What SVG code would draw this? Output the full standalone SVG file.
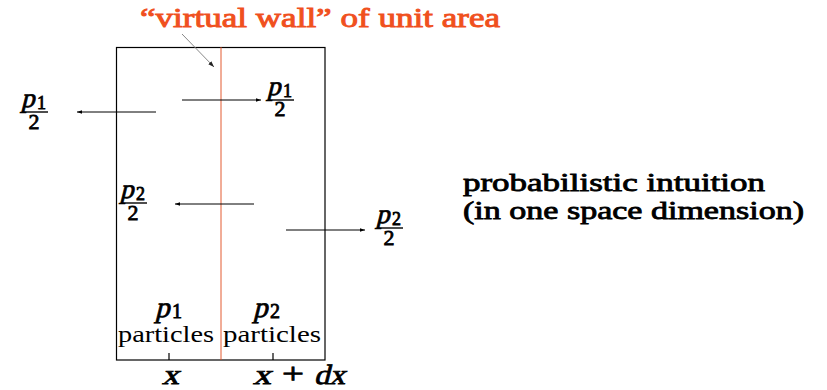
<svg xmlns="http://www.w3.org/2000/svg" width="827" height="390" viewBox="0 0 827 390">
<style>
  text { font-family: "Liberation Serif", "Times New Roman", serif; fill: #000; font-weight: normal; font-style: normal; }
  .b { stroke: #000; stroke-width: 0.8; }
  .ttl { fill: #f0501e; stroke: #f0501e; stroke-width: 0.9; }
  .arr { stroke: #000; stroke-width: 1; fill: none; marker-end: url(#ah); }
  .bar { stroke: #000; stroke-width: 1.4; }
  .tick { stroke: #000; stroke-width: 1.2; }
</style>
<defs>
  <marker id="ah" viewBox="0 0 10 10" refX="10" refY="5" markerWidth="5" markerHeight="5" orient="auto" markerUnits="userSpaceOnUse">
    <path d="M0,1.5 L10,5 L0,8.5 z" fill="#000"/>
  </marker>
  <marker id="ahg" viewBox="0 0 10 10" refX="10" refY="5" markerWidth="6" markerHeight="6" orient="auto" markerUnits="userSpaceOnUse">
    <path d="M0,1.5 L10,5 L0,8.5 z" fill="#222"/>
  </marker>
</defs>

<g id="title">
  <text class="ttl" x="140" y="27" font-size="27" textLength="360" lengthAdjust="spacingAndGlyphs">“virtual wall” of unit area</text>
</g>

<g id="box">
  <rect x="116.5" y="47.5" width="208.5" height="312.5" fill="none" stroke="#000" stroke-width="1.2"/>
  <line class="tick" x1="169" y1="353" x2="169" y2="360"/>
  <line class="tick" x1="273" y1="353" x2="273" y2="360"/>
</g>

<g id="wall">
  <line x1="221" y1="47" x2="221" y2="360" stroke="#e04818" stroke-width="0.9"/>
</g>

<g id="frac-p1-left">
  <text class="b" transform="translate(21,107) skewX(-14)" font-size="27">p</text>
  <text class="b" x="37" y="109" font-size="18">1</text>
  <line class="bar" x1="22" y1="112" x2="48" y2="112"/>
  <text class="b" x="34" y="129" font-size="22" text-anchor="middle">2</text>
</g>

<g id="frac-p1-right">
  <text class="b" transform="translate(267,95) skewX(-14)" font-size="27">p</text>
  <text class="b" x="283" y="97" font-size="18">1</text>
  <line class="bar" x1="268" y1="100" x2="294" y2="100"/>
  <text class="b" x="280" y="116" font-size="22" text-anchor="middle">2</text>
</g>

<g id="frac-p2-left">
  <text class="b" transform="translate(120,198) skewX(-14)" font-size="27">p</text>
  <text class="b" x="136" y="200" font-size="18">2</text>
  <line class="bar" x1="121" y1="203" x2="147" y2="203"/>
  <text class="b" x="133" y="220" font-size="22" text-anchor="middle">2</text>
</g>

<g id="frac-p2-right">
  <text class="b" transform="translate(376,223) skewX(-14)" font-size="27">p</text>
  <text class="b" x="392" y="225" font-size="18">2</text>
  <line class="bar" x1="377" y1="228" x2="403" y2="228"/>
  <text class="b" x="389" y="245" font-size="22" text-anchor="middle">2</text>
</g>

<g id="left-cell">
  <text class="b" transform="translate(155,317) skewX(-14)" font-size="29">p</text>
  <text class="b" x="172" y="318" font-size="20">1</text>
  <text x="118" y="342" font-size="23" textLength="96" lengthAdjust="spacingAndGlyphs">particles</text>
</g>

<g id="right-cell">
  <text class="b" transform="translate(253,317) skewX(-14)" font-size="29">p</text>
  <text class="b" x="270" y="318" font-size="20">2</text>
  <text x="223" y="342" font-size="23" textLength="98" lengthAdjust="spacingAndGlyphs">particles</text>
</g>

<g id="axis-labels">
  <text class="b" transform="translate(162,384) skewX(-14)" font-size="28" textLength="17" lengthAdjust="spacingAndGlyphs">x</text>
  <text class="b" transform="translate(253,384) skewX(-14)" font-size="28" textLength="18" lengthAdjust="spacingAndGlyphs">x</text>
  <text class="b" x="282" y="383" font-size="30" textLength="22" lengthAdjust="spacingAndGlyphs">+</text>
  <text class="b" transform="translate(314,384) skewX(-14)" font-size="28" textLength="31" lengthAdjust="spacingAndGlyphs">dx</text>
</g>

<g id="caption">
  <text class="b" x="463" y="191" font-size="25" textLength="302" lengthAdjust="spacingAndGlyphs">probabilistic intuition</text>
  <text class="b" x="463" y="219" font-size="25" textLength="341" lengthAdjust="spacingAndGlyphs">(in one space dimension)</text>
</g>

<g id="connectors">
  <line x1="182" y1="34" x2="214" y2="67" stroke="#888" stroke-width="1" marker-end="url(#ahg)"/>
  <line class="arr" x1="156" y1="112" x2="77" y2="112"/>
  <line class="arr" x1="182" y1="100" x2="261" y2="100"/>
  <line class="arr" x1="254" y1="204" x2="175" y2="204"/>
  <line class="arr" x1="286" y1="230" x2="365" y2="230"/>
</g>
</svg>
